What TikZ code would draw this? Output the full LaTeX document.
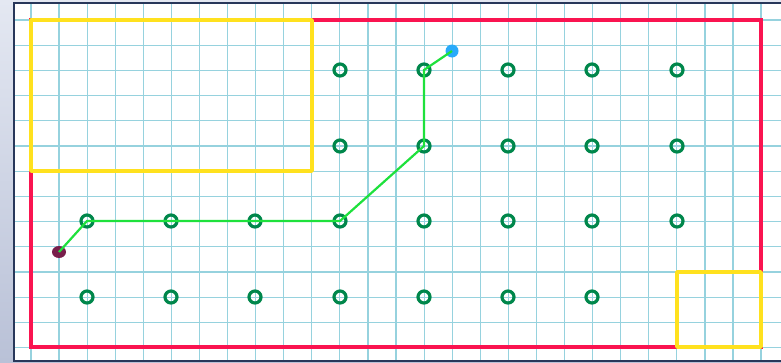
\documentclass[tikz,border=0pt]{standalone}
\usetikzlibrary{shapes.geometric}
\definecolor{gridc}{RGB}{150,210,222}
\definecolor{framec}{RGB}{40,55,90}
\definecolor{redc}{RGB}{250,20,80}
\definecolor{yelc}{RGB}{255,225,30}
\definecolor{ringc}{RGB}{0,135,75}
\definecolor{pathc}{RGB}{30,225,60}
\definecolor{dotA}{RGB}{120,30,75}
\definecolor{dotB}{RGB}{40,170,250}
\definecolor{bgtop}{RGB}{228,232,242}
\definecolor{bgbot}{RGB}{185,193,215}
\begin{document}
\begin{tikzpicture}[x=1pt,y=-1pt,
  ring/.style={circle,draw=ringc,line width=3.2pt,minimum size=12pt,inner sep=0pt},
  route/.style={draw=pathc,line width=2.2pt},
  gridline/.style={draw=gridc,line width=1.2pt},
  redbox/.style={draw=redc,line width=3.5pt},
  yelbox/.style={draw=yelc,line width=3.8pt,line join=round}]
\useasboundingbox (0,0) rectangle (781,362);
\shade[top color=bgtop,bottom color=bgbot] (0,0) rectangle (781,362);
\fill[white] (14,3) rectangle (781,361);
% grid
\foreach \i in {0,...,26} {\draw[gridline] ({31+28.08*\i},3) -- ({31+28.08*\i},361);}
\foreach \j in {0,...,13} {\draw[gridline] (14,{20+25.2*\j}) -- (781,{20+25.2*\j});}
\draw[framec,line width=1.5pt] (781,3) -- (14,3) -- (14,361) -- (781,361);
% boxes
\draw[redbox] (31,20) rectangle (761,347);
\draw[yelbox] (31,20) rectangle (312,171);
\draw[yelbox] (677,272) rectangle (761,347);
% rings
\foreach \x/\n in {340/4,424/5,508/6,592/7,677/8} {
  \node[ring] (a\n) at (\x,70) {};
  \node[ring] (b\n) at (\x,146) {};
}
\foreach \x/\n in {87/1,171/2,255/3,340/4,424/5,508/6,592/7,677/8} {
  \node[ring] (c\n) at (\x,221) {};
}
\foreach \x/\n in {87/1,171/2,255/3,340/4,424/5,508/6,592/7} {
  \node[ring] (d\n) at (\x,297) {};
}
% dots
\node[ellipse,fill=dotA,minimum width=14pt,minimum height=12pt,inner sep=0pt] (start) at (59,252) {};
\node[circle,fill=dotB,minimum size=13pt,inner sep=0pt] (goal) at (452,51) {};
% route
\draw[route] (start.center) -- (c1.center) -- (c4.center) -- (b5.center) -- (a5.center) -- (goal.center);
\end{tikzpicture}
\end{document}
